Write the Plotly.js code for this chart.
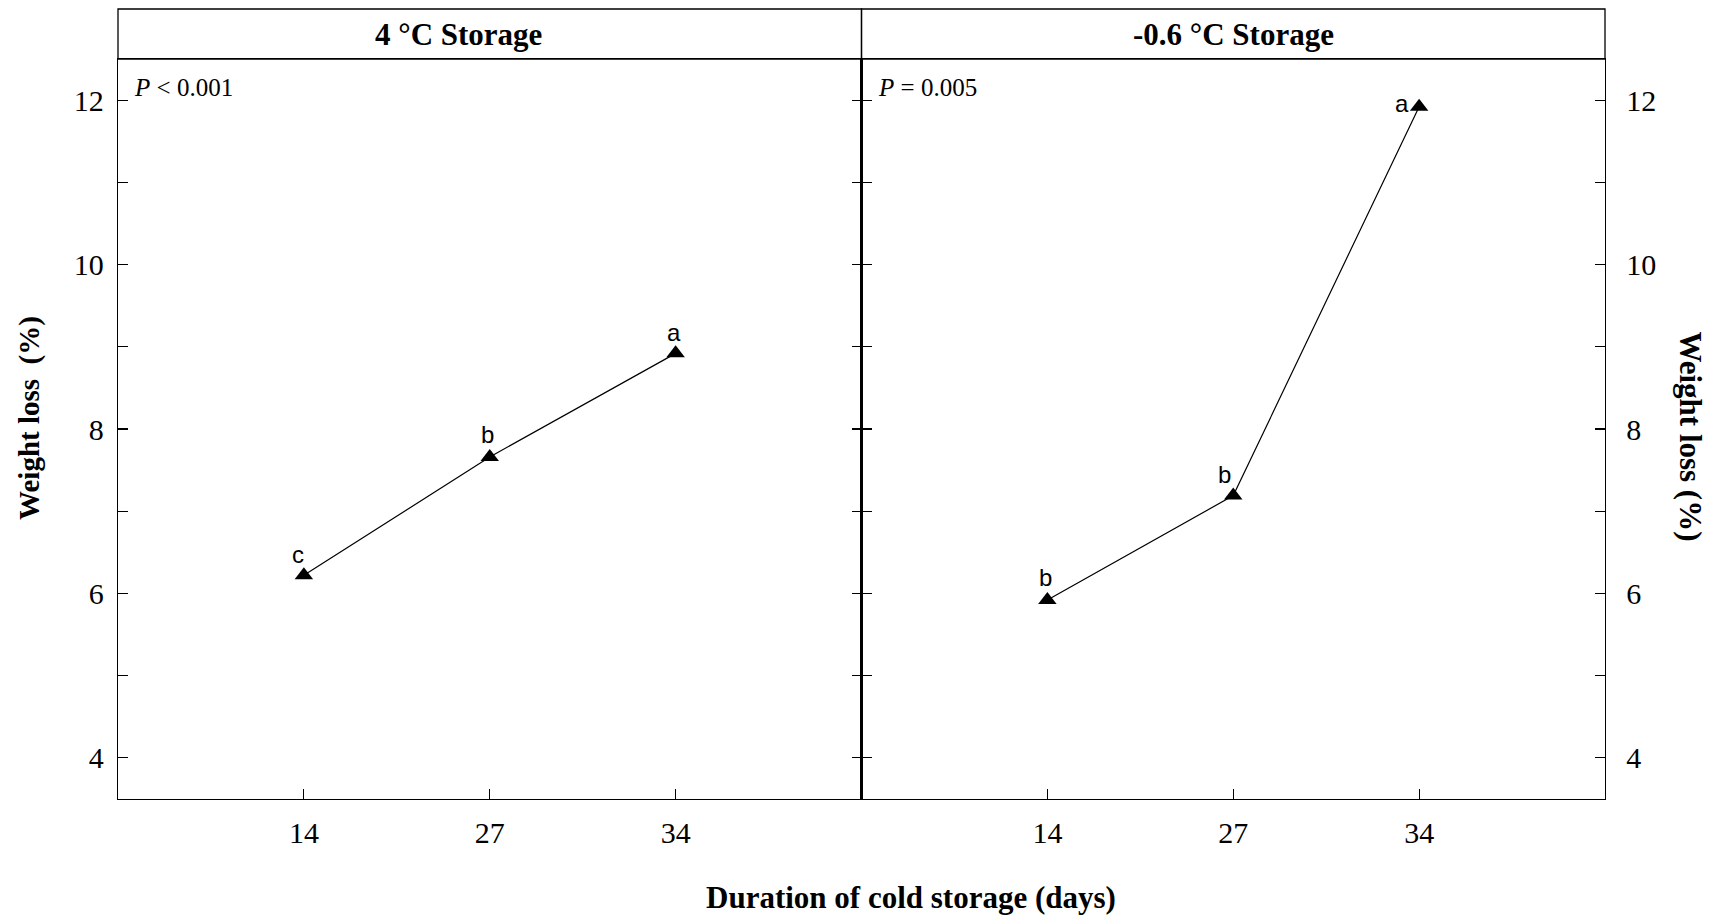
<!DOCTYPE html>
<html>
<head>
<meta charset="utf-8">
<script src="https://cdn.plot.ly/plotly-3.0.1.min.js"></script>
<style>html,body{margin:0;padding:0;background:#fff;}#chart{width:1710px;height:918px;}</style>
</head>
<body>
<div id="chart"></div>
<script>
// ---- data ----
const days = ['14', '27', '34'];
const loss4C = [6.22, 7.66, 8.92];
const lossMinus06C = [5.92, 7.19, 11.92];
const letters4C = ['c', 'b', 'a'];
const lettersMinus06C = ['b', 'b', 'a'];
const panelTitles = ['4 °C Storage', '-0.6 °C Storage'];
const pTexts = ['<i>P</i> < 0.001', '<i>P</i> = 0.005'];
const yTickVals = [4, 6, 8, 10, 12];
const yMinorVals = [5, 7, 9, 11];
const xTitle = 'Duration of cold storage (days)';
const yTitleLeft = 'Weight loss  (%)';
const yTitleRight = 'Weight loss (%)';

// ---- styles ----
const serif = 'Liberation Serif, Times New Roman, serif';
const sans = 'Liberation Sans, Arial, sans-serif';
const lineStyle = {color: '#000', width: 1.2};
const markerStyle = {symbol: 'triangle-up', size: 16, color: '#000'};

const traces = [
  {x: days, y: loss4C, xaxis: 'x', yaxis: 'y', type: 'scatter', mode: 'lines+markers',
   line: lineStyle, marker: markerStyle, showlegend: false, hoverinfo: 'x+y'},
  {x: days, y: lossMinus06C, xaxis: 'x2', yaxis: 'y2', type: 'scatter', mode: 'lines+markers',
   line: lineStyle, marker: markerStyle, showlegend: false, hoverinfo: 'x+y'}
];

function xAxis(domain, anchor) {
  return {domain: domain, anchor: anchor, type: 'category', categoryarray: days,
    range: [-1, 3], showgrid: false, zeroline: false, showline: true, linecolor: '#000',
    linewidth: 1.3, mirror: true, ticks: 'inside', ticklen: 10, tickwidth: 1.2, tickcolor: '#000',
    ticklabelstandoff: 7, tickfont: {family: serif, size: 30, color: '#000'}, fixedrange: true};
}
function yAxis(anchor, side, standoff) {
  return {anchor: anchor, side: side, range: [3.5, 12.5], tickmode: 'array', tickvals: yTickVals,
    showgrid: false, zeroline: false, showline: true, linecolor: '#000', linewidth: 1.3,
    mirror: 'ticks', ticks: 'inside', ticklen: 10, tickwidth: 1.2, tickcolor: '#000',
    minor: {tickmode: 'array', tickvals: yMinorVals, ticks: 'inside', ticklen: 10, tickwidth: 1.2, tickcolor: '#000', showgrid: false},
    ticklabelstandoff: standoff, tickfont: {family: serif, size: 30, color: '#000'}, fixedrange: true};
}

const annotations = [];
const shapes = [];
const panels = [
  {xref: 'x', yref: 'y', vals: loss4C, letters: letters4C, offs: [[-6, 21], [-2, 22], [-2, 21]], titleShift: -31},
  {xref: 'x2', yref: 'y2', vals: lossMinus06C, letters: lettersMinus06C, offs: [[-2, 23], [-9, 21], [-17, 3]], titleShift: 0}
];
panels.forEach((p, i) => {
  // header strip
  shapes.push({type: 'rect', xref: 'paper', yref: 'paper', x0: i * 0.5, x1: (i + 1) * 0.5,
    ysizemode: 'pixel', yanchor: 1, y0: 0, y1: 50, line: {color: '#000', width: 1.3}, fillcolor: 'rgba(0,0,0,0)'});
  annotations.push({xref: 'paper', yref: 'paper', x: i * 0.5 + 0.25, xshift: p.titleShift, y: 1, yshift: 25, yanchor: 'middle',
    xanchor: 'center', showarrow: false, text: '<b>' + panelTitles[i] + '</b>',
    font: {family: serif, size: 31, color: '#000'}});
  // P value
  annotations.push({xref: p.xref + ' domain', yref: p.yref, x: 0, xshift: 14, y: 12.15, xanchor: 'left',
    yanchor: 'middle', showarrow: false, text: pTexts[i], font: {family: serif, size: 25, color: '#000'}});
  // significance letters (x given as category index)
  days.forEach((d, j) => {
    annotations.push({xref: p.xref, yref: p.yref, x: j, y: p.vals[j], xshift: p.offs[j][0], yshift: p.offs[j][1],
      xanchor: 'center', yanchor: 'middle', showarrow: false, text: p.letters[j],
      font: {family: sans, size: 24, color: '#000'}});
  });
});

// axis titles
annotations.push({xref: 'paper', yref: 'paper', x: 0.533, y: 0, yshift: -98, xanchor: 'center', yanchor: 'middle',
  showarrow: false, text: '<b>' + xTitle + '</b>', font: {family: serif, size: 31, color: '#000'}});
annotations.push({xref: 'paper', yref: 'paper', x: 0, xshift: -88, y: 0.515, xanchor: 'center', yanchor: 'middle',
  textangle: -90, showarrow: false, text: '<b>' + yTitleLeft + '</b>', font: {family: serif, size: 29, color: '#000'}});
annotations.push({xref: 'paper', yref: 'paper', x: 1, xshift: 86, y: 0.49, xanchor: 'center', yanchor: 'middle',
  textangle: 90, showarrow: false, text: '<b>' + yTitleRight + '</b>', font: {family: serif, size: 31, color: '#000'}});

const layout = {
  width: 1710, height: 918,
  margin: {l: 118, r: 105, t: 59, b: 119},
  paper_bgcolor: '#fff', plot_bgcolor: '#fff',
  font: {family: serif, color: '#000'},
  xaxis: xAxis([0, 0.5], 'y'),
  xaxis2: xAxis([0.5, 1], 'y2'),
  yaxis: yAxis('x', 'left', 7),
  yaxis2: yAxis('x2', 'right', 14),
  shapes: shapes,
  annotations: annotations,
  showlegend: false
};

Plotly.newPlot('chart', traces, layout, {displayModeBar: false, staticPlot: true});
</script>
</body>
</html>
